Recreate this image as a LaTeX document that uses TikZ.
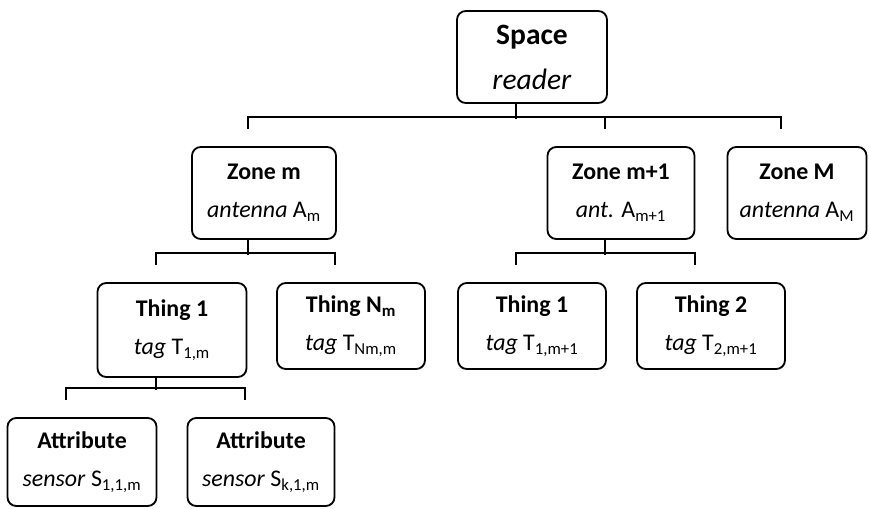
\documentclass[tikz,border=0pt]{standalone}
\usepackage{fontspec}
\setmainfont{Carlito}

\begin{document}
\begin{tikzpicture}[x=0.025cm, y=-0.025cm, line width=1.3pt,
  box/.style={draw, rounded corners=0.22cm, align=center, inner sep=0pt,
    minimum width=3.7cm, minimum height=2.15cm,
    font=\fontsize{17}{27}\selectfont}]
\useasboundingbox (0,0) rectangle (870,508);

\node[box, minimum width=3.75cm, minimum height=2.3cm, font=\fontsize{21}{32}\selectfont] (sp) at (532,57) {\textbf{Space}\\\textit{reader}};

\node[box, minimum width=3.6cm, minimum height=2.3cm] (zm) at (264,193) {\textbf{Zone m}\\\textit{antenna} A\textsubscript{m}};
\node[box, minimum width=3.675cm, minimum height=2.3cm] (zm1) at (621,193) {\textbf{Zone m+1}\\\textit{ant.} A\textsubscript{m+1}};
\node[box, minimum width=3.475cm, minimum height=2.3cm] (zM) at (797,193) {\textbf{Zone M}\\\textit{antenna} A\textsubscript{M}};

\node[box, minimum width=3.725cm, minimum height=2.35cm] (t1) at (172,330) {\textbf{Thing 1}\\\textit{tag} T\textsubscript{1,m}};
\node[box] (tN) at (351,326) {\textbf{Thing N\textsubscript{m}}\\\textit{tag} T\textsubscript{Nm,m}};
\node[box] (u1) at (532,326) {\textbf{Thing 1}\\\textit{tag} T\textsubscript{1,m+1}};
\node[box] (u2) at (711,326) {\textbf{Thing 2}\\\textit{tag} T\textsubscript{2,m+1}};

\node[box, minimum width=3.725cm, minimum height=2.2cm] (a1) at (82,462) {\textbf{Attribute}\\\textit{sensor} S\textsubscript{1,1,m}};
\node[box, minimum width=3.675cm, minimum height=2.2cm] (ak) at (261,462) {\textbf{Attribute}\\\textit{sensor} S\textsubscript{k,1,m}};

\draw ([xshift=-4mm]sp.south) -- ++(0,15);
\draw ([xshift=-4mm,yshift=4.25mm]zm.north) -- ++(0,-12) -| ([xshift=-4mm,yshift=4.25mm]zM.north);
\draw ([xshift=-4mm,yshift=4.25mm]zm1.north) -- ++(0,-12);

\draw ([xshift=-4mm]zm.south) -- ++(0,15);
\draw ([xshift=-4mm,yshift=4.25mm]t1.north) -- ++(0,-12) -| ([xshift=-4mm,yshift=4.25mm]tN.north);
\draw ([xshift=-4mm]zm1.south) -- ++(0,15);
\draw ([xshift=-4mm,yshift=4.25mm]u1.north) -- ++(0,-12) -| ([xshift=-4mm,yshift=4.25mm]u2.north);

\draw ([xshift=-4mm]t1.south) -- ++(0,12);
\draw ([xshift=-4mm,yshift=4.25mm]a1.north) -- ++(0,-12) -| ([xshift=-4mm,yshift=4.25mm]ak.north);
\end{tikzpicture}
\end{document}
